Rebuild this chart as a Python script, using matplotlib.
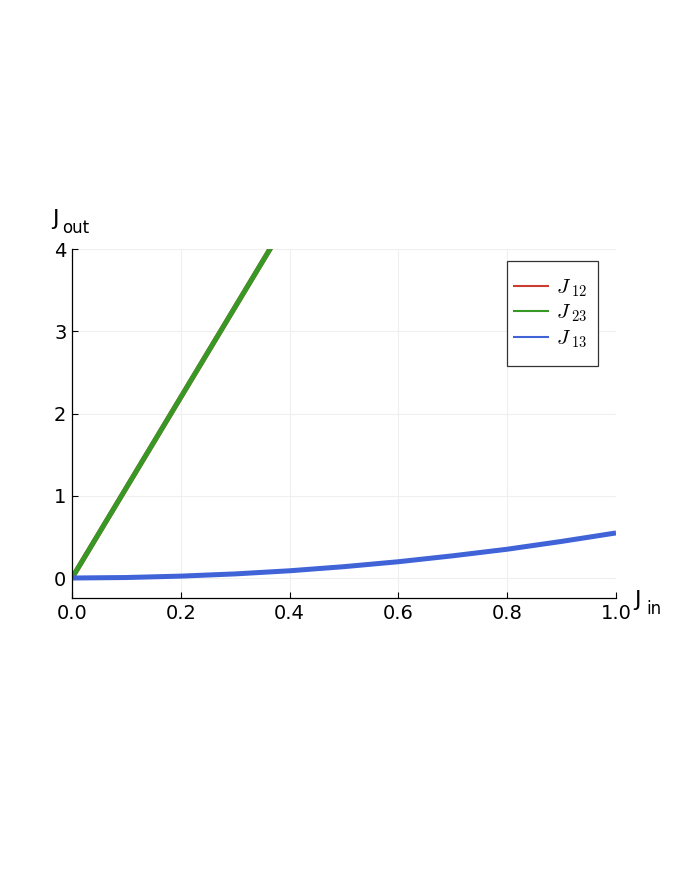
import numpy as np
import matplotlib
matplotlib.use("Agg")
import matplotlib.pyplot as plt
from matplotlib.patches import Rectangle

# data
j_in = [0.0, 0.1, 0.2, 0.3, 0.4, 0.5, 0.6, 0.7, 0.8, 0.9, 1.0]
j13 = [0.0, 0.006, 0.023, 0.05, 0.088, 0.138, 0.198, 0.27, 0.35, 0.445, 0.548]
j23_x = [0.0, 0.182, 0.364, 1.0]
j23 = [0.0, 2.0, 4.0, 11.0]
j12_x = j23_x  # hidden under J23 in the picture
j12 = j23

labels = [r"$J_{\;12}$", r"$J_{\;23}$", r"$J_{\;13}$"]
colors = ["#cb3c33", "#389826", "#4063d8"]
xticks = [0.0, 0.2, 0.4, 0.6, 0.8, 1.0]
yticks = [0, 1, 2, 3, 4]

plt.rcParams['mathtext.fontset'] = 'cm'
plt.rcParams['font.family'] = 'DejaVu Sans'

W, H = 676, 872
fig = plt.figure(figsize=(W/100, H/100), dpi=100)
ax = fig.add_axes([72/W, 1-598/H, (616-72)/W, (598-249)/H])

ax.plot(j12_x, j12, color=colors[0], lw=3.6, solid_capstyle='butt', label=labels[0])
ax.plot(j23_x, j23, color=colors[1], lw=3.6, solid_capstyle='butt', label=labels[1])
ax.plot(j_in, j13, color=colors[2], lw=3.6, solid_capstyle='butt', label=labels[2])

ax.set_xlim(0, 1)
ax.set_ylim(-0.243, 4)
ax.set_xticks(xticks)
ax.set_xticklabels(["%.1f" % v for v in xticks])
ax.set_yticks(yticks)
ax.tick_params(direction='in', length=4, width=0.8, labelsize=14, pad=4, color='black')
ax.grid(True, color='#efefef', lw=0.8)
ax.set_axisbelow(True)
for s in ['top', 'right']:
    ax.spines[s].set_visible(False)
for s in ['left', 'bottom']:
    ax.spines[s].set_linewidth(0.9)

# legend box drawn by hand, entries placed inside it
fig.patches.append(Rectangle((507/W, 1-366/H), 91/W, 105/H, transform=fig.transFigure,
                             facecolor='white', edgecolor='#333333', lw=0.9, zorder=5))
leg = fig.legend(loc='center left', bbox_to_anchor=(513/W, 1-313.5/H), fontsize=15,
                 frameon=False, handlelength=1.75, handletextpad=0.3,
                 labelspacing=0.18, borderpad=0, borderaxespad=0)
leg.set_zorder(6)
for line in leg.get_lines():
    line.set_linewidth(1.5)

# axis labels "J_out" and "J_in" drawn as plain text
fig.text(52/W, 1-225/H, "J", fontsize=16, ha='left', va='baseline')
fig.text(62/W, 1-233/H, "out", fontsize=12, ha='left', va='baseline')
fig.text(634/W, 1-606/H, "J", fontsize=16, ha='left', va='baseline')
fig.text(646/W, 1-614/H, "in", fontsize=12, ha='left', va='baseline')

fig.savefig("out.png", dpi=100)
